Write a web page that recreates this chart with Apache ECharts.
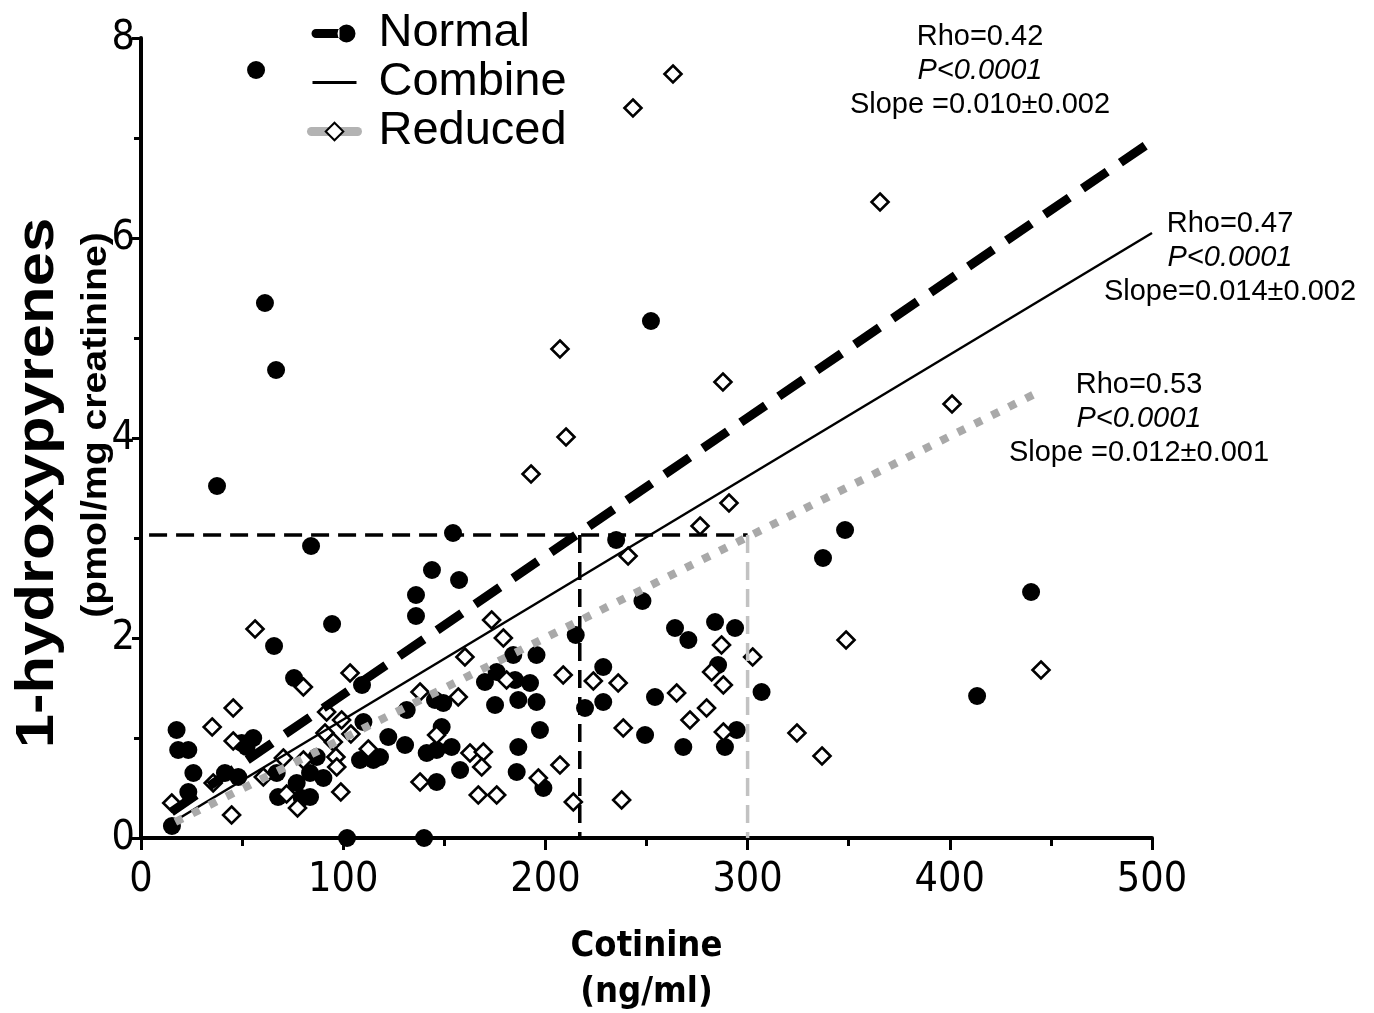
<!DOCTYPE html>
<html>
<head>
<meta charset="utf-8">
<script src="https://cdn.jsdelivr.net/npm/echarts@6/dist/echarts.min.js"></script>
<style>
html,body{margin:0;padding:0;background:#fff;}
#chart{width:1374px;height:1013px;}
</style>
</head>
<body>
<div id="chart"></div>
<script>
// ---- data (cotinine ng/ml, 1-hydroxypyrenes pmol/mg creatinine) ----
var normalCotinine = [56.9,61.3,66.8,37.6,84.1,252.2,154.3,143.9,157.3,136,136,94.5,65.8,75.7,109.3,235,215,248,337.3,348.2,440.2,413.5,101.9,140,15.3,17.6,18.4,23.4,25.9,23.4,41.5,48.1,49.8,55.5,52.2,67.1,67.8,77,79.5,110,122.3,130.6,131.4,145.4,149.5,148.7,141.3,146.2,108.3,114.9,118.2,146.2,83.6,83.6,90.2,86.9,184.1,195.6,170.1,175.9,185,192.4,175.1,186.6,195.6,197.3,186.6,185.8,199,157.8,153.6,219.6,264.1,270.7,283.9,293.8,285.4,228.6,228.6,254.2,306.9,249.3,268.2,294.6,288.8];
var normalHP = [7.68,5.35,4.68,3.52,2.92,5.17,3.05,2.68,2.58,2.43,2.22,2.14,1.92,1.60,1.53,2.98,2.03,2.37,2.80,3.08,2.46,1.42,0,0,0.12,1.08,0.88,0.88,0.65,0.46,0.65,0.61,0.95,1.00,0.91,0.65,0.41,0.55,0.40,1.16,1.01,0.93,1.28,1.38,1.35,1.11,0.85,0.88,0.78,0.78,0.81,0.56,0.65,0.41,0.60,0.81,1.83,1.83,1.56,1.66,1.58,1.55,1.33,1.38,1.36,1.08,0.91,0.66,0.50,0.68,0.91,1.30,2.10,1.98,2.16,2.10,1.73,1.71,1.36,1.41,1.46,1.03,0.91,1.08,0.91];

var reducedCotinine = [263.1,243.3,365.5,207.2,210.2,287.8,401.1,192.9,290.8,276.5,240.9,348.7,445.1,324.4,336.8,302.5,237.7,56.4,80.3,103.4,45.6,35.2,45.6,91.8,99.2,91,95.1,103.8,112.4,96.4,96.8,70.4,60.5,35.7,15.2,44.8,72,77.4,98.8,138,146.2,138,173.4,179.2,160.2,156.9,180.8,208.8,223.7,207.2,162.7,169.3,168.5,196.5,166.8,175.9,213.8,287.1,236,282.2,288,264.9,279.7,271.5,288,238.5,80.3];
var reducedHP = [7.64,7.30,6.36,4.89,4.01,4.56,4.34,3.64,3.35,3.12,2.82,1.98,1.68,1.05,0.82,1.81,0.38,2.09,1.51,1.65,1.30,1.11,0.97,1.26,1.18,1.05,0.96,1.04,0.89,0.81,0.71,0.80,0.61,0.55,0.35,0.23,0.44,0.30,0.46,1.46,1.03,0.56,2.18,2.00,1.81,1.41,1.58,1.63,1.57,0.73,0.85,0.86,0.71,0.60,0.43,0.43,0.36,1.93,1.55,1.66,1.53,1.45,1.30,1.18,1.06,1.10,0.78];

// regression lines: [x start, x end] and [y start, y end]
var normalFitX = [15, 500],  normalFitY = [0.26, 6.97];
var combineFitX = [15, 500], combineFitY = [0.15, 6.05];
var reducedFitX = [17, 445], reducedFitY = [0.16, 4.47];

// cut-off guide lines
var cutoffHP = 3.03;
var normalCutoffCotinine = 217;
var reducedCutoffCotinine = 300;
var cutoffStartCotinine = 4;

var xTicks = [0,100,200,300,400,500];
var yTicks = [0,2,4,6,8];

var annotations = [
  {lines:['Rho=0.42','P<0.0001','Slope =0.010±0.002'], cx:980, top:22},
  {lines:['Rho=0.47','P<0.0001','Slope=0.014±0.002'], cx:1230, top:209},
  {lines:['Rho=0.53','P<0.0001','Slope =0.012±0.001'], cx:1139, top:370}
];
var yTitle1 = '1-hydroxypyrenes';
var yTitle2 = '(pmol/mg creatinine)';

function zip(a,b){ var r=[]; for(var i=0;i<a.length;i++) r.push([a[i],b[i]]); return r; }

var axisFont = "'Liberation Sans Narrow','Arial Narrow','DejaVu Sans Condensed','Liberation Sans',Arial,sans-serif";
var textFont = "'Liberation Sans',Arial,sans-serif";

var graphics = [];
annotations.forEach(function(a){
  a.lines.forEach(function(t,i){
    graphics.push({
      type:'text', x:a.cx, y:a.top + i*34,
      style:{text:t, fill:'#000', font:(i===1?'italic ':'')+'29px '+textFont, textAlign:'center', textVerticalAlign:'top'}
    });
  });
});
graphics.push({type:'text', x:38, y:483, rotation:Math.PI/2, scaleX:1.14,
  style:{text:yTitle1, fill:'#000', font:'bold 54px '+textFont, textAlign:'center', textVerticalAlign:'middle'}});
graphics.push({type:'text', x:96, y:425, rotation:Math.PI/2, scaleX:1.12,
  style:{text:yTitle2, fill:'#000', font:'bold 35px '+textFont, textAlign:'center', textVerticalAlign:'middle'}});

var chart = echarts.init(document.getElementById('chart'), null, {renderer:'canvas'});
chart.setOption({
  animation:false,
  backgroundColor:'#fff',
  grid:{left:141, right:222, top:38, bottom:175, containLabel:false, outerBoundsMode:'none'},
  xAxis:{
    type:'value', min:0, max:500, interval:100,
    axisLine:{lineStyle:{color:'#000', width:4}},
    axisTick:{show:true, length:12, lineStyle:{color:'#000', width:3}},
    minorTick:{show:true, splitNumber:2, length:8, lineStyle:{color:'#000', width:3}},
    splitLine:{show:false},
    axisLabel:{color:'#000', fontSize:41, fontFamily:axisFont, margin:22},
    name:'{a|Cotinine}\n{a|(ng/ml)}',
    nameLocation:'middle', nameGap:86,
    nameTextStyle:{rich:{a:{fontSize:36, fontWeight:'bold', fontFamily:axisFont, color:'#000', lineHeight:46}}}
  },
  yAxis:{
    type:'value', min:0, max:8, interval:2,
    axisLine:{lineStyle:{color:'#000', width:4}},
    axisTick:{show:true, length:9, lineStyle:{color:'#000', width:3}},
    minorTick:{show:true, splitNumber:2, length:7, lineStyle:{color:'#000', width:3}},
    splitLine:{show:false},
    axisLabel:{color:'#000', fontSize:41, fontFamily:axisFont, margin:6}
  },
  legend:{
    orient:'vertical', left:307, top:9, padding:0, itemGap:0, itemWidth:46, itemHeight:22,
    selectedMode:false,
    textStyle:{fontSize:47, fontFamily:textFont, color:'#000', lineHeight:49, padding:[0,0,0,16]},
    data:[
      {name:'Normal', icon:'path://M0 0h0.01v0.01z M46 22h-0.01v-0.01z M4.5 6.5 H28 V15.5 H4.5 A4.5 4.5 0 0 1 4.5 6.5 Z M26 11 A9 9 0 1 0 44 11 A9 9 0 1 0 26 11 Z'},
      {name:'Combine', icon:'path://M0 0h0.01v0.01z M46 22h-0.01v-0.01z M1 9.6 H45 V12.4 H1 Z'},
      {name:'Reduced', lineStyle:{type:'solid', width:9, cap:'round', color:'#b3b3b3'}}
    ]
  },
  graphic:graphics,
  series:[
    {name:'Normal points', type:'scatter', data:zip(normalCotinine, normalHP), symbol:'circle', symbolSize:18,
     itemStyle:{color:'#000', opacity:1}, z:2, silent:true},
    {name:'Reduced points', type:'scatter', data:zip(reducedCotinine, reducedHP), symbol:'diamond', symbolSize:17,
     itemStyle:{color:'#fff', borderColor:'#000', borderWidth:2.6, opacity:1}, z:3, silent:true},
    {name:'Cutoff normal', type:'line', symbol:'none', z:4, silent:true,
     data:[[cutoffStartCotinine, cutoffHP],[normalCutoffCotinine, cutoffHP],[reducedCutoffCotinine, cutoffHP]],
     lineStyle:{color:'#000', width:3.5, type:[18,9]}},
    {name:'Cutoff normal v', type:'line', symbol:'none', z:4, silent:true,
     data:[[normalCutoffCotinine, cutoffHP],[normalCutoffCotinine, 0]],
     lineStyle:{color:'#000', width:3.5, type:[18,9]}},
    {name:'Cutoff reduced v', type:'line', symbol:'none', z:4, silent:true,
     data:[[reducedCutoffCotinine, cutoffHP],[reducedCutoffCotinine, 0]],
     lineStyle:{color:'#c2c2c2', width:3.5, type:[18,9]}},
    {name:'Normal', type:'line', symbol:'none', z:5, silent:true,
     data:zip(normalFitX, normalFitY), itemStyle:{color:'#000'},
     lineStyle:{color:'#000', width:9, type:[30,16]}},
    {name:'Combine', type:'line', symbol:'none', z:5, silent:true,
     data:zip(combineFitX, combineFitY), itemStyle:{color:'#000'},
     lineStyle:{color:'#000', width:2.5, type:'solid'}},
    {name:'Reduced', type:'line', symbol:'diamond', showSymbol:false, z:5, silent:true,
     data:zip(reducedFitX, reducedFitY),
     itemStyle:{color:'#fff', borderColor:'#000', borderWidth:2.6},
     lineStyle:{color:'#a9a9a9', width:8, type:[8,11]}}
  ]
});
</script>
</body>
</html>
